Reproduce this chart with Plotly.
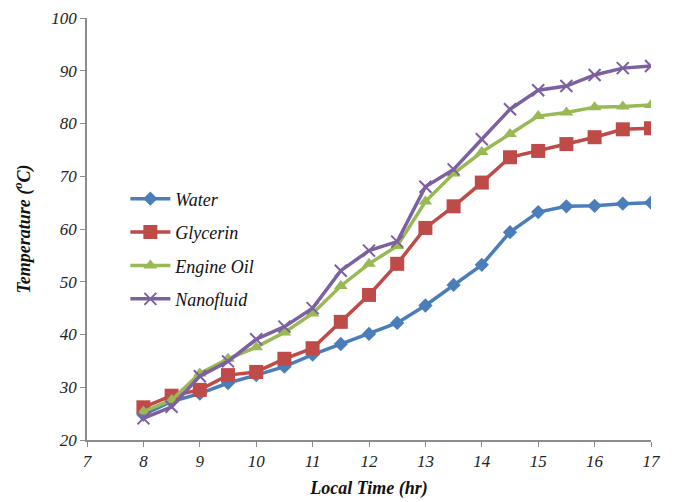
import plotly.graph_objects as go

hours = [8, 8.5, 9, 9.5, 10, 10.5, 11, 11.5, 12, 12.5, 13, 13.5, 14, 14.5, 15, 15.5, 16, 16.5, 17]
water = [24.8, 27.3, 28.8, 30.8, 32.3, 33.9, 36.2, 38.2, 40.1, 42.2, 45.5, 49.4, 53.2, 59.4, 63.2, 64.3, 64.4, 64.8, 65.0]
glycerin = [26.2, 28.4, 29.5, 32.3, 32.9, 35.4, 37.4, 42.4, 47.5, 53.4, 60.2, 64.3, 68.8, 73.6, 74.8, 76.1, 77.4, 78.9, 79.1]
engine_oil = [25.4, 27.6, 32.6, 35.4, 37.6, 40.4, 44.0, 49.2, 53.4, 56.8, 65.2, 70.5, 74.6, 78.0, 81.4, 82.1, 83.1, 83.2, 83.5]
nanofluid = [24.1, 26.3, 32.1, 34.9, 39.1, 41.5, 45.0, 52.1, 55.9, 57.6, 68.0, 71.3, 77.0, 82.7, 86.3, 87.1, 89.2, 90.5, 90.9]

series_names = ["Water", "Glycerin", "Engine Oil", "Nanofluid"]
series_values = [water, glycerin, engine_oil, nanofluid]
colors = ["#4A7EBB", "#BE4B48", "#98B954", "#7D60A0"]
symbols = ["diamond", "square", "triangle-up", "x-thin"]
sizes = [11, 14, 12, 12]

x_ticks = [7, 8, 9, 10, 11, 12, 13, 14, 15, 16, 17]
y_ticks = [20, 30, 40, 50, 60, 70, 80, 90, 100]

fig = go.Figure()
for name, vals, c, s, sz in zip(series_names, series_values, colors, symbols, sizes):
    marker = dict(symbol=s, size=sz, color=c)
    if s == "x-thin":
        marker["line"] = dict(color=c, width=2)
    fig.add_trace(go.Scatter(
        x=hours, y=vals, name=name, mode="lines+markers",
        line=dict(color=c, width=3.5), marker=marker, legendgroup=name,
    ))

font_fam = "Liberation Serif"
fig.update_layout(
    width=666, height=494,
    margin=dict(l=79, r=23, t=10, b=62),
    paper_bgcolor="white", plot_bgcolor="white",
    font=dict(family=font_fam, color="#222"),
    showlegend=True,
    legend=dict(x=0.068, y=0.615, xanchor="left", yanchor="top",
                bgcolor="rgba(0,0,0,0)", tracegroupgap=7, itemwidth=40,
                font=dict(family=font_fam, size=18, style="italic", color="#111")),
    xaxis=dict(range=[7, 17], tickvals=x_ticks, showgrid=False, zeroline=False,
               showline=True, linecolor="#8c8c8c", linewidth=1.5,
               ticks="outside", ticklen=5, tickcolor="#8c8c8c", automargin=False,
               tickfont=dict(family=font_fam, size=17, style="italic", color="#222"),
               title=dict(text="<b><i>Local Time (hr)</i></b>", standoff=11,
                          font=dict(family=font_fam, size=18, color="#111"))),
    yaxis=dict(range=[20, 100], tickvals=y_ticks, showgrid=False, zeroline=False,
               showline=True, linecolor="#8c8c8c", linewidth=1.5,
               ticks="outside", ticklen=5, tickcolor="#8c8c8c", automargin="left",
               tickfont=dict(family=font_fam, size=17, style="italic", color="#222"),
               title=dict(text="<b><i>Temperature (<sup>o</sup>C)</i></b>", standoff=16,
                          font=dict(family=font_fam, size=18, color="#111"))),
)
fig.write_html("out.html")
